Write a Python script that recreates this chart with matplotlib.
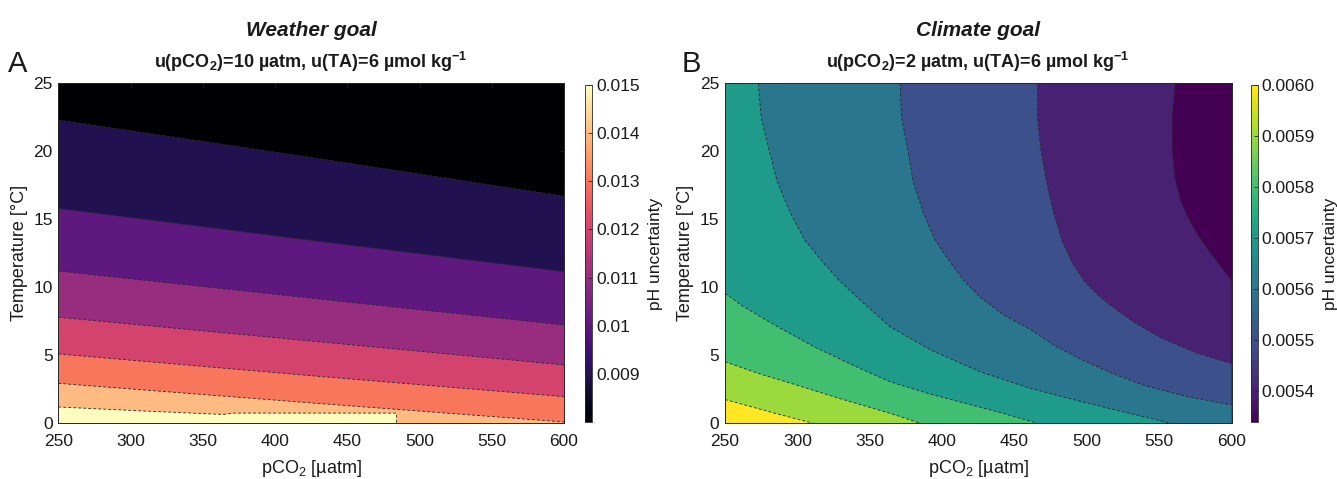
import matplotlib
matplotlib.use("Agg")
import matplotlib.pyplot as plt
from matplotlib import cm, colors

plt.rcParams['font.family'] = ['Liberation Sans', 'DejaVu Sans']
plt.rcParams['mathtext.fontset'] = 'custom'
plt.rcParams['mathtext.rm'] = 'Liberation Sans'
plt.rcParams['mathtext.bf'] = 'Liberation Sans:bold'
plt.rcParams['mathtext.it'] = 'Liberation Sans:italic'

# ---------------- data ----------------
pco2_ticks = [250, 300, 350, 400, 450, 500, 550, 600]
temp_ticks = [0, 5, 10, 15, 20, 25]

# Panel A (Weather goal): contour levels and their lines (pCO2, T)
A_levels = [0.009, 0.010, 0.011, 0.012, 0.013, 0.014, 0.015]
A_vmin, A_vmax = 0.0080, 0.0150
A_cbar_ticks = [0.009, 0.010, 0.011, 0.012, 0.013, 0.014, 0.015]
A_cbar_labels = ['0.009', '0.01', '0.011', '0.012', '0.013', '0.014', '0.015']
A_p_0090 = [250, 425, 600];            A_t_0090 = [22.3, 19.55, 16.7]
A_p_0100 = [250, 425, 600];            A_t_0100 = [15.8, 13.45, 11.15]
A_p_0110 = [250, 425, 600];            A_t_0110 = [11.2, 9.2, 7.23]
A_p_0120 = [250, 425, 600];            A_t_0120 = [7.8, 6.05, 4.29]
A_p_0130 = [250, 425, 600];            A_t_0130 = [5.1, 3.5, 1.96]
A_p_0140 = [250, 425, 600];            A_t_0140 = [2.94, 1.5, 0.1]
A_p_0150 = [250, 300, 364, 372, 484, 484]; A_t_0150 = [1.2, 0.95, 0.65, 0.75, 0.75, 0.0]

# Panel B (Climate goal)
B_levels = [0.0054, 0.0055, 0.0056, 0.0057, 0.0058, 0.0059, 0.0060]
B_vmin, B_vmax = 0.00534, 0.0060
B_cbar_ticks = [0.0054, 0.0055, 0.0056, 0.0057, 0.0058, 0.0059, 0.0060]
B_cbar_labels = ['0.0054', '0.0055', '0.0056', '0.0057', '0.0058', '0.0059', '0.0060']
B_p_0054 = [561, 559, 559, 561, 565, 572, 580, 590, 600]
B_t_0054 = [25, 22.5, 20, 18, 16.3, 14.7, 13.3, 11.9, 10.5]
B_p_0055 = [466, 466, 468, 472, 477, 483, 490, 498, 507, 516, 533, 551, 575, 600]
B_t_0055 = [25, 22.5, 20.3, 17.8, 15.5, 13.4, 11.8, 10.5, 9.5, 8.7, 7.4, 6.3, 5.2, 4.4]
B_p_0056 = [371, 372, 376, 380, 387, 395, 406, 415, 426, 442, 461, 478, 496, 517, 539, 568, 600]
B_t_0056 = [25, 22.5, 20.3, 17.8, 15.5, 13.5, 11.8, 10.5, 9.3, 8.0, 6.9, 5.7, 4.7, 3.7, 2.8, 2.0, 1.35]
B_p_0057 = [273, 275, 280, 286, 295, 305, 318, 329, 341, 364, 392, 426, 460, 496, 527, 558]
B_t_0057 = [25, 22.5, 20.3, 17.8, 15.5, 13.5, 11.8, 10.5, 9.3, 7.1, 5.4, 3.8, 2.6, 1.6, 0.8, 0.0]
B_p_0058 = [250, 261, 272, 283, 295, 312, 330, 347, 364, 390, 415, 440, 466]
B_t_0058 = [9.56, 8.7, 8.0, 7.3, 6.6, 5.6, 4.7, 3.85, 3.06, 2.2, 1.5, 0.8, 0.0]
B_p_0059 = [250, 272, 295, 330, 364, 385]
B_t_0059 = [4.53, 3.7, 2.96, 1.8, 0.74, 0.0]
B_p_0060 = [250, 283, 311]
B_t_0060 = [1.75, 0.78, 0.0]

A_lines = [(A_p_0090, A_t_0090), (A_p_0100, A_t_0100), (A_p_0110, A_t_0110),
           (A_p_0120, A_t_0120), (A_p_0130, A_t_0130), (A_p_0140, A_t_0140),
           (A_p_0150, A_t_0150)]
B_lines = [(B_p_0054, B_t_0054), (B_p_0055, B_t_0055), (B_p_0056, B_t_0056),
           (B_p_0057, B_t_0057), (B_p_0058, B_t_0058), (B_p_0059, B_t_0059),
           (B_p_0060, B_t_0060)]

XMIN, XMAX, YMIN, YMAX = 250, 600, 0, 25
TXT = '#1a1a1a'
AX_C = '#262626'


def region(p, t):
    """Region on the high-value (lower-left) side of a contour line."""
    xs, ys = list(p), list(t)
    if xs[-1] >= XMAX and ys[-1] > YMIN:
        xs.append(XMAX); ys.append(YMIN)
    xs.append(XMIN); ys.append(YMIN)
    if ys[0] >= YMAX and xs[0] > XMIN:
        xs.append(XMIN); ys.append(YMAX)
    return xs, ys


def panel(ax, lines, levels, vmin, vmax, cmap):
    norm = colors.Normalize(vmin=vmin, vmax=vmax)
    ax.fill([XMIN, XMAX, XMAX, XMIN], [YMIN, YMIN, YMAX, YMAX],
            color=cmap(norm(vmin)), lw=0, zorder=1)
    for (p, t), lev in zip(lines, levels):
        xs, ys = region(p, t)
        ax.fill(xs, ys, color=cmap(norm(lev)), lw=0, zorder=2)
    for (p, t) in lines:
        ax.plot(p, t, color='#2a2a2a', lw=0.6, ls=(0, (3.5, 2.5)), zorder=3)
    ax.set_xlim(XMIN, XMAX)
    ax.set_ylim(YMIN, YMAX)
    ax.set_xticks(pco2_ticks)
    ax.set_yticks(temp_ticks)
    ax.tick_params(direction='in', length=3, width=0.6, labelsize=12.5,
                   colors=AX_C, labelcolor=TXT, top=True, right=True, pad=4)
    ax.tick_params(axis='x', pad=8)
    for s in ax.spines.values():
        s.set_color(AX_C)
        s.set_linewidth(0.7)
        s.set_zorder(5)
    ax.set_xlabel(r'pCO$_2$ [µatm]', fontsize=13, color=TXT, labelpad=6)
    ax.set_ylabel('Temperature [°C]', fontsize=13, color=TXT, labelpad=4)
    return norm


fig = plt.figure(figsize=(13.37, 4.79), dpi=100)
W, H = 1337.0, 479.0

def ax_rect(x0, x1, y0, y1):
    return [x0 / W, 1 - y1 / H, (x1 - x0) / W, (y1 - y0) / H]

axA = fig.add_axes(ax_rect(58.3, 564, 83.3, 423.3))
axB = fig.add_axes(ax_rect(725, 1231.5, 83.3, 423.3))
caxA = fig.add_axes(ax_rect(585, 592, 85, 422))
caxB = fig.add_axes(ax_rect(1250.5, 1257.5, 85, 422))

cmapA = plt.get_cmap('magma')
cmapB = plt.get_cmap('viridis')
normA = panel(axA, A_lines, A_levels, A_vmin, A_vmax, cmapA)
normB = panel(axB, B_lines, B_levels, B_vmin, B_vmax, cmapB)

for cax, norm, cmap, ticks, labels in [(caxA, normA, cmapA, A_cbar_ticks, A_cbar_labels),
                                       (caxB, normB, cmapB, B_cbar_ticks, B_cbar_labels)]:
    cb = fig.colorbar(cm.ScalarMappable(norm=norm, cmap=cmap), cax=cax)
    cb.set_ticks(ticks)
    cb.set_ticklabels(labels)
    cb.outline.set_linewidth(0.6)
    cb.outline.set_edgecolor(AX_C)
    cax.tick_params(direction='in', length=3, width=0.6, labelsize=12.5,
                    colors=AX_C, labelcolor=TXT, pad=3)
    cb.set_label('pH uncertainty', fontsize=12.5, color=TXT, labelpad=6)

# titles
fig.text(311 / W, 1 - 30 / H, 'Weather goal', ha='center', va='center',
         fontsize=15, fontweight='bold', fontstyle='italic', color=TXT)
fig.text(978 / W, 1 - 30 / H, 'Climate goal', ha='center', va='center',
         fontsize=15, fontweight='bold', fontstyle='italic', color=TXT)
fig.text(311 / W, 1 - 62 / H,
         r'u(pCO$_\mathbf{2}$)=10 µatm, u(TA)=6 µmol kg$^{\mathbf{-1}}$',
         ha='center', va='center', fontsize=13, fontweight='bold', color=TXT)
fig.text(978 / W, 1 - 62 / H,
         r'u(pCO$_\mathbf{2}$)=2 µatm, u(TA)=6 µmol kg$^{\mathbf{-1}}$',
         ha='center', va='center', fontsize=13, fontweight='bold', color=TXT)
fig.text(8 / W, 1 - 64 / H, 'A', ha='left', va='center', fontsize=21, color=TXT)
fig.text(682 / W, 1 - 64 / H, 'B', ha='left', va='center', fontsize=21, color=TXT)

fig.savefig('out.png', dpi=100)
